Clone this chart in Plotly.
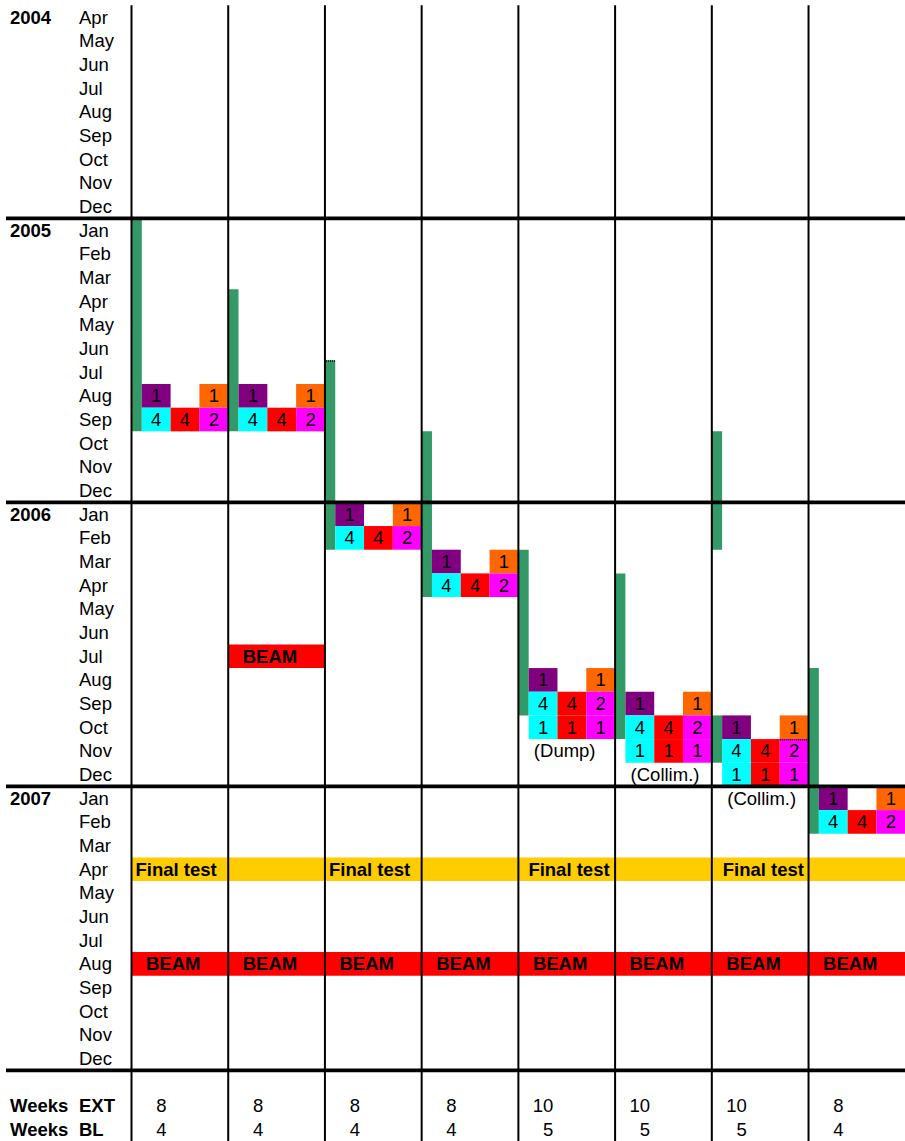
import plotly.graph_objects as go

# ---------------- data ----------------
MONTHS = ["Jan", "Feb", "Mar", "Apr", "May", "Jun", "Jul", "Aug", "Sep", "Oct", "Nov", "Dec"]
YEARS = [2004, 2005, 2006, 2007]
FIRST = (2004, 4)          # first month row: Apr 2004
LAST = (2007, 12)          # last month row: Dec 2007
N_COLS = 8

# green bars (column, first month, last month)
green_col = [0, 1, 2, 3, 4, 5, 6, 6, 7]
green_start = ["2005-01", "2005-04", "2005-07", "2005-10", "2006-03", "2006-04", "2005-10", "2006-10", "2006-08"]
green_end = ["2005-09", "2005-09", "2006-02", "2006-04", "2006-09", "2006-10", "2006-02", "2006-11", "2007-02"]

# blocks of coloured cells per column
block_start = ["2005-08", "2005-08", "2006-01", "2006-03", "2006-08", "2006-09", "2006-10", "2007-01"]
block_nrows = [2, 2, 2, 2, 3, 3, 3, 2]
block_row_labels = [["1", "", "1"], ["4", "4", "2"], ["1", "1", "1"]]
block_row_colors = [["#800080", None, "#FF6600"],
                    ["#00FFFF", "#FF0000", "#FF00FF"],
                    ["#00FFFF", "#FF0000", "#FF00FF"]]

notes_col = [4, 5, 6]
notes_text = ["(Dump)", "(Collim.)", "(Collim.)"]
notes_month = ["2006-11", "2006-12", "2007-01"]

extra_beam_col = [1]
extra_beam_month = ["2006-07"]

final_test_month = "2007-04"
final_test_label_cols = [0, 2, 4, 6]
beam_month = "2007-08"

weeks_ext = [8, 8, 8, 8, 10, 10, 10, 8]
weeks_bl = [4, 4, 4, 4, 5, 5, 5, 4]

# small dotted marks seen at the top of two cells: (column, month, part)
dotted_col = [2, 6]
dotted_month = ["2005-07", "2006-11"]
dotted_part = ["green", "cell2"]

# ---------------- geometry / style ----------------
W, H = 905, 1141
X0_PX, COL_PX = 131.5, 96.72
Y0_PX, ROW_PX = 5.3, 23.67
G = 10.3 / COL_PX            # green sub-column width (column units)
CW = (1 - G) / 3             # coloured cell width
TXT_DY = 0.075               # text baseline nudge (rows)
FINAL_TEST_PAD_PX = [4, 4, 10, 11]

GREEN = "#339966"
GOLD = "#FFCC00"
RED = "#FF0000"
FONT = "Liberation Sans, Arial, sans-serif"
FS = 18.5


def px2x(px):
    return (px - X0_PX) / COL_PX


def row(ym):
    y, m = (int(v) for v in ym.split("-"))
    return (y - FIRST[0]) * 12 + (m - FIRST[1])


n_month_rows = (LAST[0] - FIRST[0]) * 12 + LAST[1] - FIRST[1] + 1   # 45
ROW_EXT = n_month_rows + 1
ROW_BL = n_month_rows + 2

# ---------------- bars ----------------
bx, bw, bb, bl, bc = [], [], [], [], []


def add_bar(x_left, width, r0, nrows, color):
    bx.append(x_left + width / 2)
    bw.append(width)
    bb.append(r0)
    bl.append(nrows)
    bc.append(color)


for c, s, e in zip(green_col, green_start, green_end):
    add_bar(c, G, row(s), row(e) - row(s) + 1, GREEN)

num_x, num_y, num_t = [], [], []
for c, (s, n) in enumerate(zip(block_start, block_nrows)):
    r0 = row(s)
    for i in range(n):
        for k in range(3):
            col = block_row_colors[i][k]
            xl = c + G + k * CW
            if col is not None:
                add_bar(xl, CW, r0 + i, 1, col)
            if block_row_labels[i][k]:
                num_x.append(xl + CW / 2)
                num_y.append(r0 + i + 0.5)
                num_t.append(block_row_labels[i][k])

for c, m in zip(extra_beam_col, extra_beam_month):
    add_bar(c, 1, row(m), 1, RED)
add_bar(0, N_COLS, row(final_test_month), 1, GOLD)
add_bar(0, N_COLS, row(beam_month), 1, RED)

fig = go.Figure()
fig.add_trace(go.Bar(x=bx, y=bl, base=bb, width=bw,
                     marker=dict(color=bc, line=dict(width=0)),
                     opacity=1, hoverinfo="skip"))

# ---------------- lines ----------------
vx, vy = [], []
for c in range(N_COLS):
    vx += [c, c, None]
    vy += [0, ROW_BL + 2, None]
fig.add_trace(go.Scatter(x=vx, y=vy, mode="lines", line=dict(color="black", width=2),
                         hoverinfo="skip"))
hx, hy = [], []
for yr in YEARS[1:] + [YEARS[-1] + 1]:
    r = row(f"{yr}-01")
    hx += [px2x(6), N_COLS + 1, None]
    hy += [r, r, None]
fig.add_trace(go.Scatter(x=hx, y=hy, mode="lines", line=dict(color="black", width=3.8),
                         hoverinfo="skip"))

dx, dy = [], []
for c, m, p in zip(dotted_col, dotted_month, dotted_part):
    r = row(m)
    if p == "green":
        dx += [c + 0.01, c + G, None]
    else:
        dx += [c + G + 2 * CW, c + 1 - 0.01, None]
    dy += [r + 0.03, r + 0.03, None]
fig.add_trace(go.Scatter(x=dx, y=dy, mode="lines",
                         line=dict(color="black", width=1.5, dash="1px,1px"),
                         hoverinfo="skip"))


# ---------------- texts ----------------
def add_text(xs, ys, ts, pos, bold=False):
    if bold:
        ts = [f"<b>{t}</b>" for t in ts]
    fig.add_trace(go.Scatter(x=xs, y=[v + TXT_DY for v in ys], text=ts, mode="text", textposition=pos,
                             textfont=dict(family=FONT, size=FS, color="black"),
                             hoverinfo="skip", cliponaxis=False))


# month labels
mr = list(range(n_month_rows))
add_text([px2x(79)] * n_month_rows, [r + 0.5 for r in mr],
         [MONTHS[(FIRST[1] - 1 + r) % 12] for r in mr], "middle right")
# year labels
yrows = [0] + [row(f"{y}-01") for y in YEARS[1:]]
add_text([px2x(10)] * len(YEARS), [r + 0.5 for r in yrows], [str(y) for y in YEARS],
         "middle right", bold=True)
# weeks labels
add_text([px2x(10)] * 2, [ROW_EXT + 0.5, ROW_BL + 0.5], ["Weeks", "Weeks"], "middle right", bold=True)
add_text([px2x(79)] * 2, [ROW_EXT + 0.5, ROW_BL + 0.5], ["EXT", "BL"], "middle right", bold=True)
# cell numbers
add_text(num_x, num_y, num_t, "middle center")
# notes
add_text([c + 0.16 for c in notes_col], [row(m) + 0.5 for m in notes_month], notes_text, "middle right")
# beam labels
add_text([c + 0.15 for c in extra_beam_col], [row(m) + 0.5 for m in extra_beam_month],
         ["BEAM"] * len(extra_beam_col), "middle right", bold=True)
add_text([c + 0.15 for c in range(N_COLS)], [row(beam_month) + 0.5] * N_COLS,
         ["BEAM"] * N_COLS, "middle right", bold=True)
# final test labels
add_text([c + p / COL_PX for c, p in zip(final_test_label_cols, FINAL_TEST_PAD_PX)],
         [row(final_test_month) + 0.5] * len(final_test_label_cols),
         ["Final test"] * len(final_test_label_cols), "middle right", bold=True)
# weeks values (right aligned)
add_text([c + 0.362 for c in range(N_COLS)], [ROW_EXT + 0.5] * N_COLS, [str(v) for v in weeks_ext], "middle left")
add_text([c + 0.362 for c in range(N_COLS)], [ROW_BL + 0.5] * N_COLS, [str(v) for v in weeks_bl], "middle left")

fig.update_layout(
    width=W, height=H, margin=dict(l=0, r=0, t=0, b=0, pad=0),
    paper_bgcolor="white", plot_bgcolor="white",
    barmode="overlay", showlegend=False, hovermode=False,
    xaxis=dict(range=[px2x(0), px2x(W)], visible=False, fixedrange=True),
    yaxis=dict(range=[(H - Y0_PX) / ROW_PX, -Y0_PX / ROW_PX], visible=False, fixedrange=True),
)

fig.write_html("out.html", config={"displayModeBar": False, "staticPlot": True},
               post_script="document.body.style.margin='0';document.body.style.overflow='hidden';")
